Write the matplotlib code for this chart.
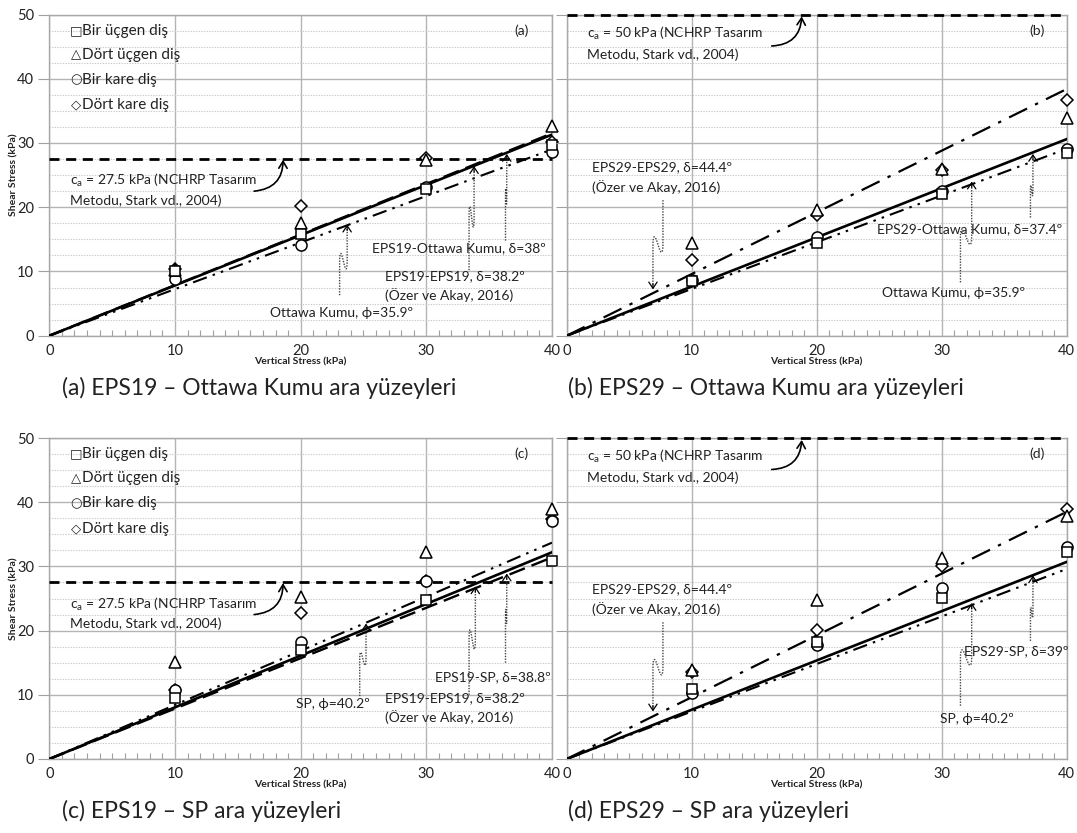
import numpy as np
import matplotlib
matplotlib.use("Agg")
import matplotlib.pyplot as plt
from matplotlib.ticker import MultipleLocator

plt.rcParams['font.family'] = ['Lato', 'DejaVu Sans']
plt.rcParams['mathtext.fontset'] = 'custom'
plt.rcParams['mathtext.rm'] = 'Lato'
plt.rcParams['mathtext.it'] = 'Lato:italic'

# ---------------- data ----------------
vertical_stress = [10, 20, 30, 40]
legend_labels = ["Bir üçgen diş", "Dört üçgen diş", "Bir kare diş", "Dört kare diş"]
legend_glyphs = ["□", "△", "○", "◇"]

a_square = [10.0, 15.8, 22.8, 29.7]
a_triangle = [10.3, 17.5, 27.3, 32.6]
a_circle = [8.8, 14.1, 23.1, 28.6]
a_diamond = [10.4, 20.2, 27.7, 30.2]

b_square = [8.5, 14.4, 22.1, 28.5]
b_triangle = [14.4, 19.6, 25.9, 33.9]
b_circle = [8.7, 15.4, 22.6, 29.0]
b_diamond = [11.8, 18.8, 25.8, 36.7]

c_square = [9.5, 17.0, 24.8, 30.9]
c_triangle = [15.1, 25.2, 32.2, 39.0]
c_circle = [10.8, 18.2, 27.8, 37.0]
c_diamond = [10.7, 22.8, 27.7, 37.4]

d_square = [10.9, 18.3, 25.1, 32.3]
d_triangle = [13.8, 24.8, 31.3, 37.9]
d_circle = [10.3, 17.8, 26.7, 33.0]
d_diamond = [13.6, 20.1, 30.1, 38.9]

# shear stress of each failure envelope at 40 kPa (lines through origin)
a_lines = {"solid": 31.3, "dashed": 31.5, "dashdotdot": 29.0}
b_lines = {"solid": 30.6, "dashdot": 38.4, "dashdotdot": 29.1}
c_lines = {"solid": 32.2, "dashed": 31.4, "dashdotdot": 33.7}
d_lines = {"solid": 30.7, "dashdot": 38.5, "dashdotdot": 29.6}

panel_tags = ["(a)", "(b)", "(c)", "(d)"]
captions = ["(a) EPS19 – Ottawa Kumu ara yüzeyleri",
            "(b) EPS29 – Ottawa Kumu ara yüzeyleri",
            "(c) EPS19 – SP ara yüzeyleri",
            "(d) EPS29 – SP ara yüzeyleri"]

ca_text_27 = ["$\\mathregular{c_a}$ = 27.5 kPa (NCHRP Tasarım", "Metodu, Stark vd., 2004)"]
ca_text_50 = ["$\\mathregular{c_a}$ = 50 kPa (NCHRP Tasarım", "Metodu, Stark vd., 2004)"]

# ---------------- figure ----------------
W, H = 1077, 833
fig = plt.figure(figsize=(W / 100, H / 100), dpi=100)

def frac_rect(x0, x1, ytop, ybot):
    return [x0 / W, 1 - ybot / H, (x1 - x0) / W, (ybot - ytop) / H]

rects = [frac_rect(49.3, 552, 14.5, 335.7), frac_rect(566.7, 1066.7, 14.5, 335.7),
         frac_rect(49.3, 552, 438, 759), frac_rect(566.7, 1066.7, 438, 759)]

TXT = '#222222'
FS = 10

def style_axes(ax, show_y):
    ax.set_xlim(0, 40)
    ax.set_ylim(0, 50)
    ax.xaxis.set_major_locator(MultipleLocator(10))
    ax.xaxis.set_minor_locator(MultipleLocator(1))
    ax.yaxis.set_major_locator(MultipleLocator(10))
    ax.yaxis.set_minor_locator(MultipleLocator(2.5))
    ax.grid(which='major', color='#b4b4b4', lw=1.0)
    ax.grid(which='minor', axis='y', color='#c8c8c8', lw=0.8, ls=(0, (1.2, 1.2)))
    ax.set_axisbelow(True)
    for s in ax.spines.values():
        s.set_color('#a8a8a8')
        s.set_linewidth(1.0)
    ax.tick_params(axis='x', which='major', length=0, labelsize=FS + 0.5, labelcolor=TXT, pad=6)
    ax.tick_params(axis='x', which='minor', direction='in', length=4, color='#a0a0a0', width=0.8)
    ax.tick_params(axis='y', which='major', direction='out', length=8, color='#a0a0a0',
                   labelsize=FS + 0.5, labelcolor=TXT, pad=3, labelleft=show_y)
    ax.tick_params(axis='y', which='minor', length=0)
    ax.set_xlabel("Vertical Stress (kPa)", fontsize=7.5, color=TXT, fontweight='bold')
    ax.xaxis.set_label_coords(0.5, -0.068)
    if show_y:
        ax.set_ylabel("Shear Stress (kPa)", fontsize=7.5, color=TXT, fontweight='bold')
        ax.yaxis.set_label_coords(-0.062, 0.5)

def plot_points(ax, sq, tr, ci, di):
    kw = dict(ls='none', mfc='white', mec='black', mew=1.1, zorder=6, clip_on=False)
    ax.plot(vertical_stress, di, marker='D', ms=6.3, **kw)
    ax.plot(vertical_stress, ci, marker='o', ms=8, **kw)
    ax.plot(vertical_stress, tr, marker='^', ms=8.5, **kw)
    ax.plot(vertical_stress, sq, marker='s', ms=7.5, **kw)

LINESTYLES = {
    "solid": dict(ls='-', lw=1.9),
    "dashed": dict(ls=(0, (7, 3)), lw=1.7),
    "dashdotdot": dict(ls=(0, (7, 3, 1.2, 3, 1.2, 3)), lw=1.5),
    "dashdot": dict(ls=(0, (9, 4, 1.5, 4)), lw=1.6),
}

def plot_lines(ax, lines):
    xs = np.array([0.0, 40.0])
    for key, end in lines.items():
        ax.plot(xs, xs * end / 40.0, color='black', zorder=4, **LINESTYLES[key])

def leader(ax, x0, y0, x1, y1, ys, h):
    d = 1 if y1 > y0 else -1
    t = np.linspace(0, 1, 40)
    mx = x0 + (x1 - x0) * (0.5 - 0.5 * np.cos(np.pi * t))
    my = ys + d * h * np.sin(2 * np.pi * t)
    xs = np.concatenate([[x0], mx, [x1]])
    ys_ = np.concatenate([[y0], my, [y1 - d * 0.6]])
    ax.plot(xs, ys_, color='#444444', lw=1.0, ls=(0, (1, 1)), zorder=5)
    ax.annotate("", xy=(x1, y1), xytext=(x1, y1 - d * 0.9),
                arrowprops=dict(arrowstyle='->,head_length=0.45,head_width=0.3',
                                color='black', lw=0.9, shrinkA=0, shrinkB=0), zorder=5)

def ca_block(ax, ca, lines_txt, y1, y2, arrow_from, arrow_to):
    ax.axhline(ca, color='black', lw=2.0, ls=(0, (3.6, 2.4)), zorder=3, clip_on=False)
    ax.text(1.65, y1, lines_txt[0], fontsize=FS, color=TXT, ha='left', va='center')
    ax.text(1.65, y2, lines_txt[1], fontsize=FS, color=TXT, ha='left', va='center')
    ax.annotate("", xy=arrow_to, xytext=arrow_from,
                arrowprops=dict(arrowstyle='->,head_length=0.5,head_width=0.3', color='black',
                                lw=1.2, connectionstyle='arc3,rad=0.45',
                                shrinkA=0, shrinkB=0))

def legend_block(ax):
    ys = [47.5, 43.7, 39.8, 35.9]
    for g, lab, y in zip(legend_glyphs, legend_labels, ys):
        ax.text(2.1, y, g, fontsize=9.5, color=TXT, ha='center', va='center',
                family=['DejaVu Sans'])
        ax.text(2.6, y, lab, fontsize=11, color=TXT, ha='left', va='center')

axes = [fig.add_axes(r) for r in rects]
for i, ax in enumerate(axes):
    style_axes(ax, show_y=(i % 2 == 0))
    ax.text(37.6, 47.5, panel_tags[i], fontsize=FS, color=TXT, ha='center', va='center')

# ---- (a)
ax = axes[0]
plot_lines(ax, a_lines)
plot_points(ax, a_square, a_triangle, a_circle, a_diamond)
ca_block(ax, 27.5, ca_text_27, 24.1, 21.0, (16.3, 22.5), (18.6, 27.4))
legend_block(ax)
ax.text(25.7, 13.7, "EPS19-Ottawa Kumu, δ=38º", fontsize=FS, color=TXT, va='center')
ax.text(26.7, 9.3, "EPS19-EPS19, δ=38.2º", fontsize=FS, color=TXT, va='center')
ax.text(26.7, 6.4, "(Özer ve Akay, 2016)", fontsize=FS, color=TXT, va='center')
ax.text(17.6, 3.6, "Ottawa Kumu, ϕ=35.9º", fontsize=FS, color=TXT, va='center')
leader(ax, 23.1, 6.3, 23.7, 17.3, 11.6, 1.2)
leader(ax, 33.4, 10.2, 33.8, 26.4, 18.5, 1.6)
leader(ax, 36.3, 14.8, 36.4, 28.3, 21.7, 1.2)

# ---- (b)
ax = axes[1]
plot_lines(ax, b_lines)
plot_points(ax, b_square, b_triangle, b_circle, b_diamond)
ca_block(ax, 50, ca_text_50, 47.1, 43.8, (16.4, 45.1), (18.8, 49.7))
ax.text(2.0, 26.3, "EPS29-EPS29, δ=44.4º", fontsize=FS, color=TXT, va='center')
ax.text(2.0, 23.2, "(Özer ve Akay, 2016)", fontsize=FS, color=TXT, va='center')
ax.text(24.8, 16.6, "EPS29-Ottawa Kumu, δ=37.4º", fontsize=FS, color=TXT, va='center')
ax.text(25.2, 6.7, "Ottawa Kumu, ϕ=35.9º", fontsize=FS, color=TXT, va='center')
leader(ax, 7.7, 21.1, 6.9, 7.2, 14.2, 1.2)
leader(ax, 31.5, 8.3, 32.4, 24.0, 15.4, 1.2)
leader(ax, 37.1, 18.4, 37.3, 28.3, 22.6, 0.8)

# ---- (c)
ax = axes[2]
plot_lines(ax, c_lines)
plot_points(ax, c_square, c_triangle, c_circle, c_diamond)
ca_block(ax, 27.5, ca_text_27, 24.1, 21.0, (16.3, 22.5), (18.6, 27.4))
legend_block(ax)
ax.text(30.7, 12.7, "EPS19-SP, δ=38.8º", fontsize=FS, color=TXT, va='center')
ax.text(26.7, 9.5, "EPS19-EPS19, δ=38.2º", fontsize=FS, color=TXT, va='center')
ax.text(26.7, 6.5, "(Özer ve Akay, 2016)", fontsize=FS, color=TXT, va='center')
ax.text(19.6, 8.6, "SP, ϕ=40.2º", fontsize=FS, color=TXT, va='center')
leader(ax, 24.7, 9.8, 25.2, 21.1, 15.6, 1.0)
leader(ax, 33.4, 10.0, 33.9, 26.9, 18.6, 1.5)
leader(ax, 36.3, 15.0, 36.4, 28.9, 22.2, 1.1)

# ---- (d)
ax = axes[3]
plot_lines(ax, d_lines)
plot_points(ax, d_square, d_triangle, d_circle, d_diamond)
ca_block(ax, 50, ca_text_50, 47.1, 43.8, (16.4, 45.1), (18.8, 49.7))
ax.text(2.0, 26.4, "EPS29-EPS29, δ=44.4º", fontsize=FS, color=TXT, va='center')
ax.text(2.0, 23.4, "(Özer ve Akay, 2016)", fontsize=FS, color=TXT, va='center')
ax.text(31.8, 16.8, "EPS29-SP, δ=39º", fontsize=FS, color=TXT, va='center')
ax.text(29.9, 6.2, "SP, ϕ=40.2º", fontsize=FS, color=TXT, va='center')
leader(ax, 7.7, 21.3, 6.9, 7.4, 14.3, 1.2)
leader(ax, 31.5, 8.3, 32.4, 24.3, 15.8, 1.2)
leader(ax, 37.1, 18.4, 37.3, 28.6, 22.8, 0.8)

# captions
cap_pos = [(62, 388), (568, 388), (62, 811), (568, 811)]
for (cx, cy), cap in zip(cap_pos, captions):
    fig.text(cx / W, 1 - cy / H, cap, fontsize=16.5, color=TXT, ha='left', va='center')

fig.savefig("out.png", dpi=100)
